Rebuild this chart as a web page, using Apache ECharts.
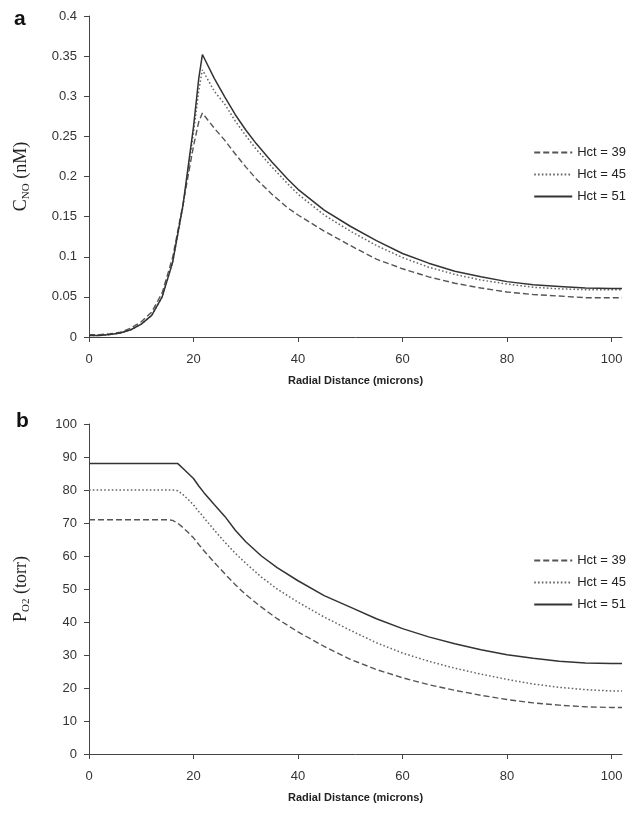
<!DOCTYPE html>
<html>
<head>
<meta charset="utf-8">
<script src="https://cdn.jsdelivr.net/npm/echarts@6/dist/echarts.min.js"></script>
<style>
html,body{margin:0;padding:0;background:#fff;}
#chart{width:641px;height:820px;}
</style>
</head>
<body>
<div id="chart"></div>
<script>
// ---- Panel a: NO concentration ----
const xTop = [0,2,4,6,8,10,12,14,16,18,20,21,21.7,24,26,28,30,32,35,38,40,45,50,55,60,65,70,75,80,85,90,95,100,102];
const cno39 = [0.003,0.003,0.004,0.006,0.011,0.019,0.031,0.055,0.099,0.166,0.238,0.268,0.279,0.26,0.245,0.228,0.212,0.197,0.178,0.161,0.152,0.132,0.114,0.097,0.085,0.075,0.067,0.061,0.056,0.053,0.051,0.049,0.049,0.049];
const cno45 = [0.002,0.002,0.003,0.005,0.009,0.016,0.027,0.05,0.093,0.163,0.255,0.307,0.333,0.306,0.29,0.269,0.251,0.234,0.212,0.191,0.178,0.152,0.132,0.114,0.099,0.087,0.078,0.071,0.066,0.062,0.06,0.059,0.059,0.059];
const cno51 = [0.002,0.002,0.003,0.005,0.009,0.016,0.027,0.05,0.093,0.165,0.262,0.322,0.352,0.322,0.299,0.277,0.258,0.241,0.218,0.197,0.184,0.158,0.138,0.12,0.104,0.092,0.082,0.075,0.069,0.065,0.063,0.061,0.0605,0.0605];

// ---- Panel b: O2 partial pressure ----
const xBot = [0,5,10,15,16,17,18,19,20,21,22,24,26,28,30,33,36,40,45,50,55,60,65,70,75,80,85,90,95,100,102];
const po39 = [71,71,71,71,70.8,69.9,68.6,67.1,65.5,63.5,61.6,58,54.6,51.3,48.3,44.5,41,37,32.6,28.7,25.6,23.1,21,19.3,17.8,16.5,15.5,14.8,14.3,14.1,14.1];
const po45 = [80,80,80,80,80,79.8,78.6,77.1,75.5,73.5,71.6,67.8,64.2,60.8,57.8,53.6,50,46,41.5,37.5,33.7,30.6,28.1,26,24.2,22.6,21.2,20.2,19.5,19.1,19.1];
const po51 = [88,88,88,88,88,88,86.5,85,83.5,81.2,79.2,75.5,72,67.8,64.3,60,56.5,52.5,48,44.5,41,38,35.5,33.4,31.6,30.1,29,28.1,27.6,27.4,27.4];

const seriesNames = ['Hct = 39','Hct = 45','Hct = 51'];
const xTickValues = [0,20,40,60,80,100];

const pairs = (xs, ys) => xs.map((x, i) => [x, ys[i]]);
const styles = [
  {color:'#555', type:[6,3], width:1.4},
  {color:'#666', type:[1.6,2.2], width:1.5},
  {color:'#333', type:'solid', width:1.5}
];

const FONT = '"Liberation Sans", Arial, sans-serif';
const SERIF = '"Liberation Serif", "Times New Roman", serif';

function xAxisCfg(gridIndex){
  return {
    type:'value', gridIndex, min:0, max:102,
    name:'Radial Distance (microns)', nameLocation:'middle', nameGap:38,
    nameTextStyle:{fontFamily:FONT, fontWeight:'bold', fontSize:11, color:'#222'},
    axisLine:{lineStyle:{color:'#444', width:1}},
    axisTick:{show:true, inside:false, length:5, customValues:xTickValues, lineStyle:{color:'#444'}},
    axisLabel:{customValues:xTickValues, margin:16, fontFamily:FONT, fontSize:13, color:'#333'},
    splitLine:{show:false}
  };
}
function yAxisCfg(gridIndex, max, interval, nameRich){
  return {
    type:'value', gridIndex, min:0, max, interval,
    name:nameRich.text, nameLocation:'middle', nameGap:57, nameRotate:90,
    nameTextStyle:{fontFamily:SERIF, fontSize:18, color:'#222', rich:nameRich.rich},
    axisLine:{show:true, lineStyle:{color:'#444', width:1}},
    axisTick:{show:true, inside:false, length:5, lineStyle:{color:'#444'}},
    axisLabel:{margin:12, fontFamily:FONT, fontSize:13, color:'#333'},
    splitLine:{show:false}
  };
}
const richBase = {
  a:{fontFamily:SERIF, fontSize:18, color:'#222', lineHeight:22},
  s:{fontFamily:SERIF, fontSize:11, color:'#222', lineHeight:12, verticalAlign:'bottom'}
};

const series = [];
[cno39, cno45, cno51].forEach((d, i) => series.push({
  name:seriesNames[i], type:'line', xAxisIndex:0, yAxisIndex:0,
  data:pairs(xTop, d), showSymbol:false, symbol:'none', smooth:false,
  lineStyle:styles[i], itemStyle:{color:styles[i].color}, z:3 + i
}));
[po39, po45, po51].forEach((d, i) => series.push({
  name:seriesNames[i], type:'line', xAxisIndex:1, yAxisIndex:1,
  data:pairs(xBot, d), showSymbol:false, symbol:'none', smooth:false,
  lineStyle:styles[i], itemStyle:{color:styles[i].color}, z:3 + i
}));

const legendCfg = (top) => ({
  data:seriesNames, orient:'vertical', right:10, top, itemGap:9,
  itemWidth:38, itemHeight:12, selectedMode:false,
  itemStyle:{opacity:0},
  textStyle:{fontFamily:FONT, fontSize:13, color:'#222'}
});

const option = {
  backgroundColor:'#fff',
  animation:false,
  title:[
    {text:'a', left:9, top:4, textStyle:{fontFamily:FONT, fontWeight:'bold', fontSize:21, color:'#111'}},
    {text:'b', left:11, top:406, textStyle:{fontFamily:FONT, fontWeight:'bold', fontSize:21, color:'#111'}}
  ],
  legend:[legendCfg(141), legendCfg(549)],
  grid:[
    {left:89, top:16, right:19, height:321},
    {left:89, top:424, right:19, height:330}
  ],
  xAxis:[xAxisCfg(0), xAxisCfg(1)],
  yAxis:[
    yAxisCfg(0, 0.4, 0.05, {text:'{a|C}{s|NO}{a| (nM)}', rich:richBase}),
    yAxisCfg(1, 100, 10, {text:'{a|P}{s|O2}{a| (torr)}', rich:richBase})
  ],
  series
};
const chart = echarts.init(document.getElementById('chart'), null, {renderer:'canvas'});
chart.setOption(option);
</script>
</body>
</html>
